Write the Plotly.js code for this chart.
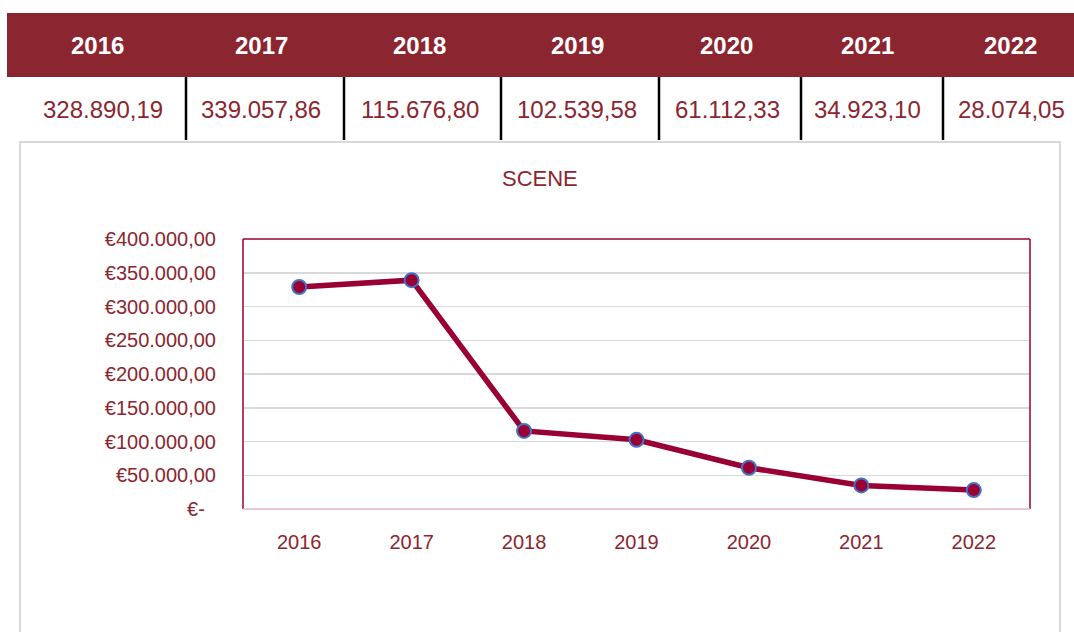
<!DOCTYPE html>
<html>
<head>
<meta charset="utf-8">
<script src="https://cdn.plot.ly/plotly-3.0.1.min.js"></script>
<style>
html,body{margin:0;padding:0;background:#fff;}
#chart{width:1074px;height:632px;}
</style>
</head>
<body>
<div id="chart"></div>
<script>
// ---- data ----
const years = ['2016', '2017', '2018', '2019', '2020', '2021', '2022'];
const values = [328890.19, 339057.86, 115676.80, 102539.58, 61112.33, 34923.10, 28074.05];
const valueLabels = ['328.890,19', '339.057,86', '115.676,80', '102.539,58', '61.112,33', '34.923,10', '28.074,05'];
const yTickVals = [0, 50000, 100000, 150000, 200000, 250000, 300000, 350000, 400000];
const yTickText = ['€-\u00a0\u00a0', '€50.000,00', '€100.000,00', '€150.000,00', '€200.000,00', '€250.000,00', '€300.000,00', '€350.000,00', '€400.000,00'];
const chartTitle = 'SCENE';

// ---- layout geometry (pixels) ----
const W = 1074, H = 632;
const PL = 243, PR = 1030, PT = 239, PB = 509;
const px = x => (x - PL) / (PR - PL);
const py = y => (PB - y) / (PB - PT);

const FONT = '"Liberation Sans Narrow", "Arial Narrow", "Liberation Sans", Arial, sans-serif';
const RED = '#8B2630';
const LINE = '#990033';

// table column boundaries (pixels)
const colEdges = [7, 186, 344, 501, 659, 801, 943, 1074];
const headerCenters = [97, 261, 419, 577, 726, 867, 1010];
const valueCenters = [103, 261, 420, 577, 727, 867, 1011];

const shapes = [];
const annotations = [];

// outer chart box
shapes.push({type:'rect', xref:'paper', yref:'paper', x0:px(20), x1:px(1060), y0:py(142), y1:py(660),
  line:{color:'#d9d9d9', width:2}, fillcolor:'rgba(0,0,0,0)', layer:'below'});
// header band
shapes.push({type:'rect', xref:'paper', yref:'paper', x0:px(7), x1:px(1080), y0:py(13), y1:py(77),
  line:{width:0}, fillcolor:RED});
// vertical dividers in value row
for (let i = 1; i < colEdges.length - 1; i++) {
  shapes.push({type:'line', xref:'paper', yref:'paper', x0:px(colEdges[i]), x1:px(colEdges[i]),
    y0:py(77), y1:py(140), line:{color:'#000', width:2.5}});
}
// plot border: left/top/right dark, bottom light pink
shapes.push({type:'line', xref:'paper', yref:'paper', x0:0, x1:0, y0:0, y1:1, line:{color:LINE, width:1.5}});
shapes.push({type:'line', xref:'paper', yref:'paper', x0:0, x1:1, y0:1, y1:1, line:{color:LINE, width:1.5}});
shapes.push({type:'line', xref:'paper', yref:'paper', x0:1, x1:1, y0:0, y1:1, line:{color:LINE, width:1.5}});
shapes.push({type:'line', xref:'paper', yref:'paper', x0:0, x1:1, y0:0, y1:0, line:{color:'#e3b5c3', width:1.5}});

years.forEach((yr, i) => {
  annotations.push({xref:'paper', yref:'paper', x:px(headerCenters[i]), y:py(45), text:'<b>' + yr + '</b>',
    showarrow:false, xanchor:'center', yanchor:'middle', font:{family:FONT, size:24, color:'#fff'}});
  annotations.push({xref:'paper', yref:'paper', x:px(valueCenters[i]), y:py(110), text:valueLabels[i],
    showarrow:false, xanchor:'center', yanchor:'middle', font:{family:FONT, size:24, color:RED}});
});

// chart title
annotations.push({xref:'paper', yref:'paper', x:px(540), y:py(179), text:chartTitle, showarrow:false,
  xanchor:'center', yanchor:'middle', font:{family:FONT, size:22, color:RED}});

const trace = {
  x: years,
  y: values,
  type: 'scatter',
  mode: 'lines+markers',
  line: {color: LINE, width: 5.5},
  marker: {color: LINE, size: 14, line: {color: '#4472C4', width: 2}},
  hoverinfo: 'skip'
};

const layout = {
  width: W, height: H,
  margin: {l: PL, r: W - PR, t: PT, b: H - PB, pad: 0},
  paper_bgcolor: '#fff', plot_bgcolor: '#fff',
  showlegend: false,
  xaxis: {
    type: 'category', range: [-0.5, 6.5], showgrid: false, zeroline: false, showline: false,
    ticks: '', ticklabelstandoff: 19,
    tickfont: {family: FONT, size: 20, color: RED}, fixedrange: true
  },
  yaxis: {
    range: [0, 400000], tickvals: yTickVals, ticktext: yTickText,
    showgrid: true, gridcolor: '#d9d9d9', gridwidth: 1.5, zeroline: false, showline: false,
    ticks: '', ticklabelstandoff: 26,
    tickfont: {family: FONT, size: 20, color: RED}, fixedrange: true
  },
  shapes: shapes,
  annotations: annotations
};

Plotly.newPlot('chart', [trace], layout, {displayModeBar: false, staticPlot: true});
</script>
</body>
</html>
